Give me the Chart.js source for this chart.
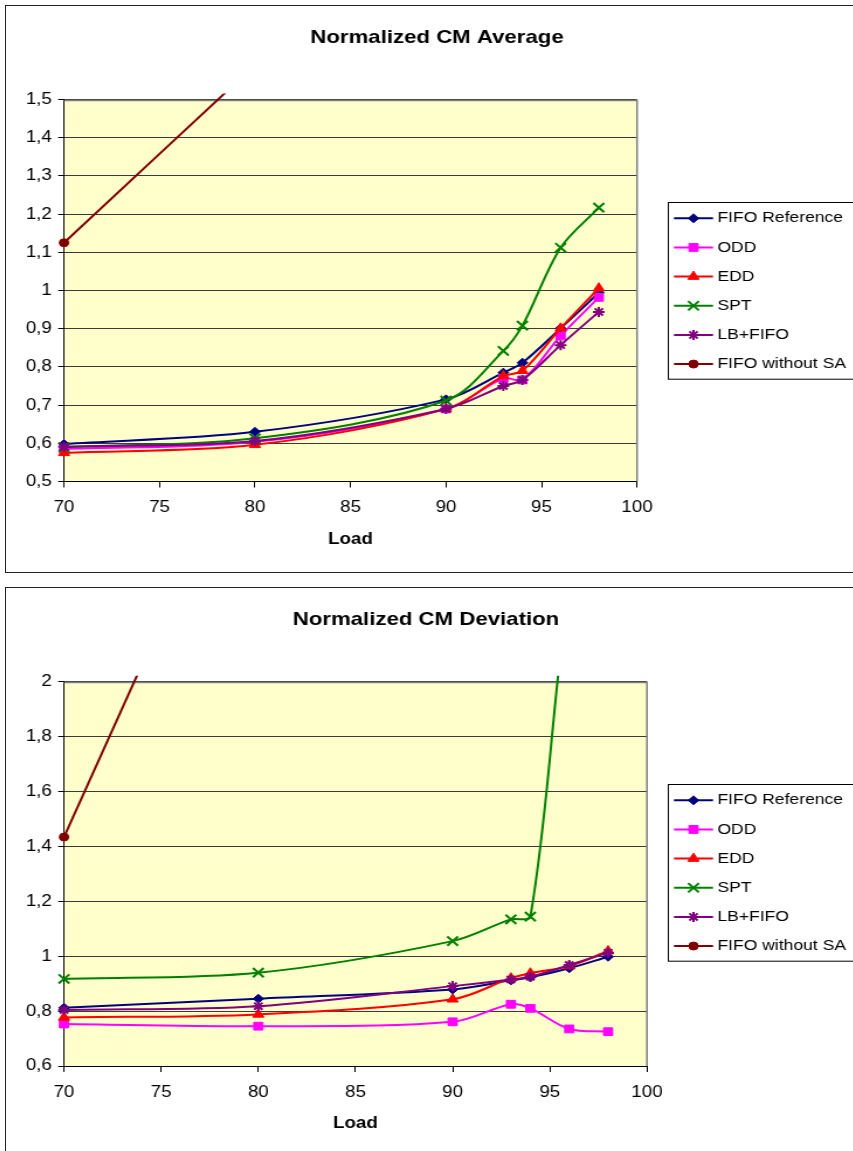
<!DOCTYPE html>
<html>
<head>
<meta charset="utf-8">
<title>Normalized CM Average / Deviation</title>
<script src="https://cdn.jsdelivr.net/npm/chart.js@4.4.1/dist/chart.umd.min.js"></script>
<style>
  html, body { margin: 0; padding: 0; background: #fff; width: 853px; height: 1151px; overflow: hidden; }
  .box { position: absolute; left: 5px; width: 870px; height: 568px; border: 1px solid #222; box-sizing: border-box; background: #fff; }
  #boxAvg { top: 5px; }
  #boxDev { top: 587px; }
  .box canvas { position: absolute; left: 0; top: 0; }
</style>
</head>
<body>
<div class="box" id="boxAvg"><canvas id="avgChart" width="727" height="566" style="width:850px;height:566px"></canvas></div>
<div class="box" id="boxDev"><canvas id="devChart" width="727" height="566" style="width:850px;height:566px"></canvas></div>
<script>
// ---- data ----
const loads = [70, 80, 90, 93, 94, 96, 98];
const noSaLoads = [70, 80];
const seriesNames = ['FIFO Reference', 'ODD', 'EDD', 'SPT', 'LB+FIFO', 'FIFO without SA'];

// Normalized CM Average
const avgFifoRef  = [0.598, 0.630, 0.715, 0.785, 0.811, 0.901, 0.994];
const avgOdd      = [0.585, 0.604, 0.690, 0.770, 0.766, 0.881, 0.982];
const avgEdd      = [0.575, 0.596, 0.690, 0.776, 0.790, 0.901, 1.006];
const avgSpt      = [0.590, 0.613, 0.712, 0.842, 0.908, 1.112, 1.217];
const avgLbFifo   = [0.591, 0.606, 0.690, 0.750, 0.766, 0.857, 0.944];
const avgFifoNoSa = [1.125, 1.59];

// Normalized CM Deviation
const devFifoRef  = [0.812, 0.845, 0.879, 0.912, 0.923, 0.956, 0.998];
const devOdd      = [0.753, 0.745, 0.761, 0.825, 0.810, 0.735, 0.725];
const devEdd      = [0.777, 0.788, 0.843, 0.920, 0.938, 0.964, 1.019];
const devSpt      = [0.917, 0.940, 1.055, 1.134, 1.144, 2.35, 3.0];
const devLbFifo   = [0.804, 0.818, 0.891, 0.915, 0.925, 0.968, 1.013];
const devFifoNoSa = [1.434, 3.0];

// axis ranges
const loadAxis = { min: 70, max: 100, step: 5 };
const avgAxis  = { min: 0.5, max: 1.5, step: 0.1 };
const devAxis  = { min: 0.6, max: 2.0, step: 0.2 };

// ---- look ----
const FONT = '"Liberation Sans", Arial, sans-serif';
const seriesStyles = [
  { color: '#000080', pointStyle: 'rectRot',  radius: 4.5, bw: 1 },
  { color: '#FF00FF', pointStyle: 'rect',     radius: 5.5, bw: 1 },
  { color: '#FF0000', pointStyle: 'triangle', radius: 5.5, bw: 1 },
  { color: '#008000', pointStyle: 'crossRot', radius: 6.5, bw: 2 },
  { color: '#800080', pointStyle: 'star',     radius: 5,   bw: 2 },
  { color: '#800000', pointStyle: 'circle',   radius: 4,   bw: 1 }
];

function toPoints(xs, ys) { return xs.map((x, i) => ({ x: x, y: ys[i] })); }

function buildDatasets(seriesValues) {
  return seriesValues.map((s, i) => {
    const st = seriesStyles[i];
    return {
      label: seriesNames[i],
      data: toPoints(s.x, s.y),
      borderColor: st.color,
      backgroundColor: st.color,
      borderWidth: 2,
      tension: 0.33,
      pointStyle: st.pointStyle,
      pointRadius: st.radius,
      pointBackgroundColor: st.color,
      pointBorderColor: st.color,
      pointBorderWidth: st.bw,
      clip: { left: 9, top: 6, right: 9, bottom: 4 },
      order: seriesValues.length - i
    };
  });
}

// plot-area fill/border, chart title and legend box
const framePlugin = {
  id: 'frame',
  beforeDraw(chart) {
    const { ctx, chartArea: a } = chart;
    ctx.save();
    ctx.fillStyle = '#FFFFFF';
    ctx.fillRect(0, 0, chart.width, chart.height);
    ctx.fillStyle = '#FFFFCC';
    ctx.fillRect(a.left, a.top, a.right - a.left, a.bottom - a.top);
    ctx.restore();
  },
  beforeDatasetsDraw(chart) {
    const { ctx, chartArea: a } = chart;
    ctx.save();
    ctx.strokeStyle = '#808080';
    ctx.lineWidth = 1.5;
    ctx.beginPath();
    ctx.moveTo(a.left, Math.round(a.top) + 0.5);
    ctx.lineTo(a.right, Math.round(a.top) + 0.5);
    ctx.lineTo(a.right, a.bottom);
    ctx.stroke();
    ctx.restore();
  },
  afterDraw(chart, args, opts) {
    const ctx = chart.ctx;
    ctx.save();
    // title
    ctx.fillStyle = '#000';
    ctx.font = 'bold 19px ' + FONT;
    ctx.textAlign = 'center';
    ctx.textBaseline = 'middle';
    ctx.fillText(opts.title, opts.titleX, opts.titleY);

    // legend
    const lg = opts.legend;
    ctx.strokeStyle = '#000';
    ctx.lineWidth = 1;
    ctx.strokeRect(Math.round(lg.left) + 0.5, Math.round(lg.top) + 0.5, 400, lg.height);
    ctx.font = '15px ' + FONT;
    ctx.textAlign = 'left';
    chart.data.datasets.forEach((ds, i) => {
      const y = lg.firstRow + i * lg.rowStep;
      ctx.strokeStyle = ds.borderColor;
      ctx.lineWidth = 2;
      ctx.beginPath();
      ctx.moveTo(lg.lineX1, y);
      ctx.lineTo(lg.lineX2, y);
      ctx.stroke();
      ctx.fillStyle = ds.borderColor;
      ctx.lineWidth = ds.pointBorderWidth;
      Chart.helpers.drawPoint(ctx, {
        pointStyle: ds.pointStyle, radius: ds.pointRadius, rotation: 0, borderWidth: ds.pointBorderWidth
      }, (lg.lineX1 + lg.lineX2) / 2, y);
      ctx.fillStyle = '#000';
      ctx.fillText(ds.label, lg.textX, y);
    });
    ctx.restore();
  }
};

function tickText(v) {
  if (Math.abs(v - Math.round(v)) < 1e-9) return String(Math.round(v));
  return v.toFixed(1).replace('.', ',');
}

function makeChart(id, cfg) {
  return new Chart(document.getElementById(id), {
    type: 'line',
    data: { datasets: buildDatasets(cfg.series) },
    plugins: [framePlugin],
    options: {
      responsive: false,
      animation: false,
      devicePixelRatio: 1,
      events: [],
      layout: {
        autoPadding: false,
        padding: { top: cfg.plotTop, left: 0, right: cfg.padRight, bottom: 0 }
      },
      elements: { line: { capBezierPoints: false } },
      scales: {
        x: {
          type: 'linear',
          min: loadAxis.min, max: loadAxis.max,
          afterFit(scale) { scale.height = cfg.xAxisHeight; },
          ticks: { stepSize: loadAxis.step, color: '#000', padding: 10.6, font: { family: FONT, size: 16 } },
          grid: { drawOnChartArea: false, drawTicks: true, tickLength: 6, tickColor: '#000' },
          border: { color: '#000', width: 1 },
          title: {
            display: true, text: 'Load', color: '#000',
            font: { family: FONT, size: 16, weight: 'bold' },
            padding: { top: 0, bottom: cfg.loadPad }
          }
        },
        y: {
          min: cfg.yAxis.min, max: cfg.yAxis.max,
          afterFit(scale) { scale.width = 49.6; },
          ticks: { stepSize: cfg.yAxis.step, color: '#000', padding: 5.4, callback: tickText, font: { family: FONT, size: 16 } },
          grid: { color: '#3a3a3a', lineWidth: 1, drawTicks: true, tickLength: 5, tickColor: '#000' },
          border: { color: '#000', width: 1 }
        }
      },
      plugins: {
        legend: { display: false },
        title: { display: false },
        tooltip: { enabled: false },
        frame: {
          title: cfg.title, titleX: cfg.titleX, titleY: 32,
          legend: {
            left: 565.6, top: 196.3, height: 176.7,
            firstRow: 212.3, rowStep: 29.15,
            lineX1: 571.3, lineX2: 604.7, textX: 608.4
          }
        }
      }
    }
  });
}

makeChart('avgChart', {
  title: 'Normalized CM Average',
  titleX: 368.6,
  plotTop: 93.5,
  padRight: 187.3,
  xAxisHeight: 90.5,
  loadPad: 22.4,
  yAxis: avgAxis,
  series: [
    { x: loads, y: avgFifoRef },
    { x: loads, y: avgOdd },
    { x: loads, y: avgEdd },
    { x: loads, y: avgSpt },
    { x: loads, y: avgLbFifo },
    { x: noSaLoads, y: avgFifoNoSa }
  ]
});

makeChart('devChart', {
  title: 'Normalized CM Deviation',
  titleX: 359.2,
  plotTop: 93.7,
  padRight: 178.8,
  xAxisHeight: 88,
  loadPad: 20.4,
  yAxis: devAxis,
  series: [
    { x: loads, y: devFifoRef },
    { x: loads, y: devOdd },
    { x: loads, y: devEdd },
    { x: loads, y: devSpt },
    { x: loads, y: devLbFifo },
    { x: noSaLoads, y: devFifoNoSa }
  ]
});
</script>
</body>
</html>
